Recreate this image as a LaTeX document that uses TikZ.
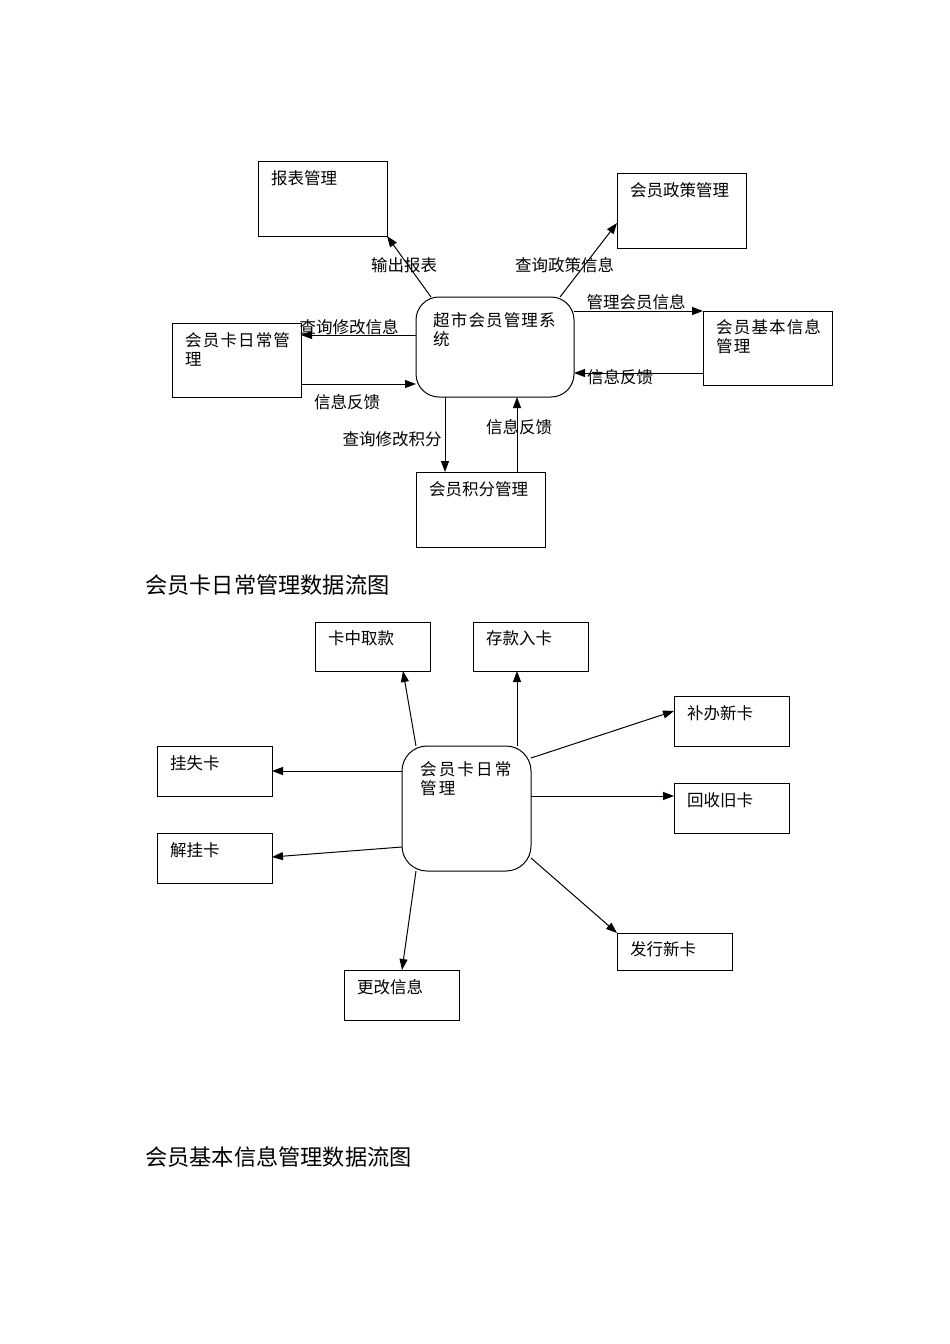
\documentclass[tikz,border=0pt]{standalone}
\usepackage{fontspec}
\setmainfont{Noto Sans CJK SC}
\newfontfamily\cjk{Noto Sans CJK SC}
\newfontfamily\cjkspa[LetterSpace=7]{Noto Sans CJK SC}
\newfontfamily\cjkspb[LetterSpace=13]{Noto Sans CJK SC}
\usetikzlibrary{arrows.meta}
\begin{document}
\begin{tikzpicture}[x=1pt,y=-1pt,
  box/.style={draw, line width=1pt, inner sep=0pt, outer sep=0pt, anchor=north west},
  rbox/.style={box, rounded corners=23pt},
  txt/.style={anchor=west, inner sep=0pt, font=\cjk\fontsize{16.5}{19.5}\selectfont},
  txtsp/.style={anchor=north west, inner sep=0pt, align=left, font=\cjkspa\fontsize{16.5}{19.5}\selectfont},
  txtspb/.style={anchor=north west, inner sep=0pt, align=left, font=\cjkspb\fontsize{16.5}{19.5}\selectfont},
  lbl/.style={inner sep=0pt, font=\cjk\fontsize{16.5}{19.5}\selectfont},
  ttl/.style={anchor=west, inner sep=0pt, font=\cjk\fontsize{22.2}{26}\selectfont},
  arr/.style={line width=1pt, -{Triangle[length=11pt,width=8pt]}}]
\useasboundingbox (0,0) rectangle (950,1344);
% ---------- diagram 1 ----------
\node[box, minimum width=129, minimum height=75] (rep) at (258,161) {};
\node[box, minimum width=129, minimum height=75] (pol) at (617,173) {};
\node[rbox, minimum width=158, minimum height=100] (sys) at (416,297) {};
\node[box, minimum width=129, minimum height=74] (card) at (172,323) {};
\node[box, minimum width=129, minimum height=74] (basic) at (703,311) {};
\node[box, minimum width=129, minimum height=75] (pts) at (416,472) {};
\node[txt] (rept) at (271,178) {报表管理};
\node[txt] (polt) at (630,190) {会员政策管理};
\node[txtsp] (syst) at (433,312) {超市会员管理系\\统};
\node[txtsp] (cardt) at (185,332) {会员卡日常管\\理};
\node[txtsp] (basict) at (716,319) {会员基本信息\\管理};
\node[txt] (ptst) at (429,489) {会员积分管理};
\draw[arr] ([xshift=15]sys.north west) -- (rep.south east);
\draw[arr] ([xshift=-14]sys.north east) -- ([yshift=-50]pol.north west);
\draw[arr] ([yshift=-14]sys.north east) coordinate (a1) -- (a1 -| basic.west);
\draw[arr] ([yshift=12]basic.south west) coordinate (a2) -- (a2 -| sys.east);
\draw[arr] ([yshift=-38]sys.north west) coordinate (a3) -- (a3 -| card.east);
\draw[arr] ([yshift=13]card.south east) coordinate (a4) -- (a4 -| sys.west);
\draw[arr] ([xshift=29]sys.south west) coordinate (a5) -- (a5 |- pts.north);
\draw[arr] ([xshift=101]pts.north west) coordinate (a6) -- (a6 |- sys.south);
\node[lbl] (l1) at (404,265) {输出报表};
\node[lbl] (l2) at (564.5,265) {查询政策信息};
\node[lbl] (l3) at (636,302) {管理会员信息};
\node[lbl] (l4) at (620,377) {信息反馈};
\node[lbl] (l5) at (349,327) {查询修改信息};
\node[lbl] (l6) at (347,402) {信息反馈};
\node[lbl] (l7) at (392,439) {查询修改积分};
\node[lbl] (l8) at (519,427) {信息反馈};
\node[ttl] (t1) at (145,585) {会员卡日常管理数据流图};
% ---------- diagram 2 ----------
\node[box, minimum width=115, minimum height=49] (qk) at (315,622) {};
\node[box, minimum width=115, minimum height=49] (ck) at (473,622) {};
\node[box, minimum width=115, minimum height=50] (bb) at (674,696) {};
\node[box, minimum width=115, minimum height=50] (gs) at (157,746) {};
\node[box, minimum width=115, minimum height=50] (hs) at (674,783) {};
\node[box, minimum width=115, minimum height=50] (jg) at (157,833) {};
\node[box, minimum width=115, minimum height=37] (fx) at (617,933) {};
\node[box, minimum width=115, minimum height=50] (gg) at (344,970) {};
\node[rbox, minimum width=129, minimum height=125, rounded corners=25pt] (cm) at (402,746) {};
\node[txt] (qkt) at (328,638) {卡中取款};
\node[txt] (ckt) at (486,638) {存款入卡};
\node[txt] (bbt) at (687,713) {补办新卡};
\node[txt] (gst) at (170,763) {挂失卡};
\node[txt] (hst) at (687,800) {回收旧卡};
\node[txt] (jgt) at (170,850) {解挂卡};
\node[txt] (fxt) at (630,949) {发行新卡};
\node[txt] (ggt) at (357,987) {更改信息};
\node[txtspb] (cmt) at (420,761) {会员卡日常\\管理};
\draw[arr] ([xshift=14]cm.north west) -- ([xshift=88]qk.south west);
\draw[arr] ([xshift=115]cm.north west) coordinate (b1) -- (b1 |- ck.south);
\draw[arr] ([yshift=-12]cm.north east) -- ([yshift=-15]bb.north west);
\draw[arr] ([yshift=-50]cm.north east) coordinate (b2) -- (b2 -| hs.west);
\draw[arr] ([yshift=13]cm.south east) -- (fx.north west);
\draw[arr] ([xshift=14]cm.south west) -- ([xshift=58]gg.north west);
\draw[arr] ([yshift=-25]cm.north west) coordinate (b3) -- (b3 -| gs.east);
\draw[arr] ([yshift=24]cm.south west) -- ([yshift=-24]jg.north east);
\node[ttl] (t2) at (145,1157) {会员基本信息管理数据流图};
\end{tikzpicture}
\end{document}
